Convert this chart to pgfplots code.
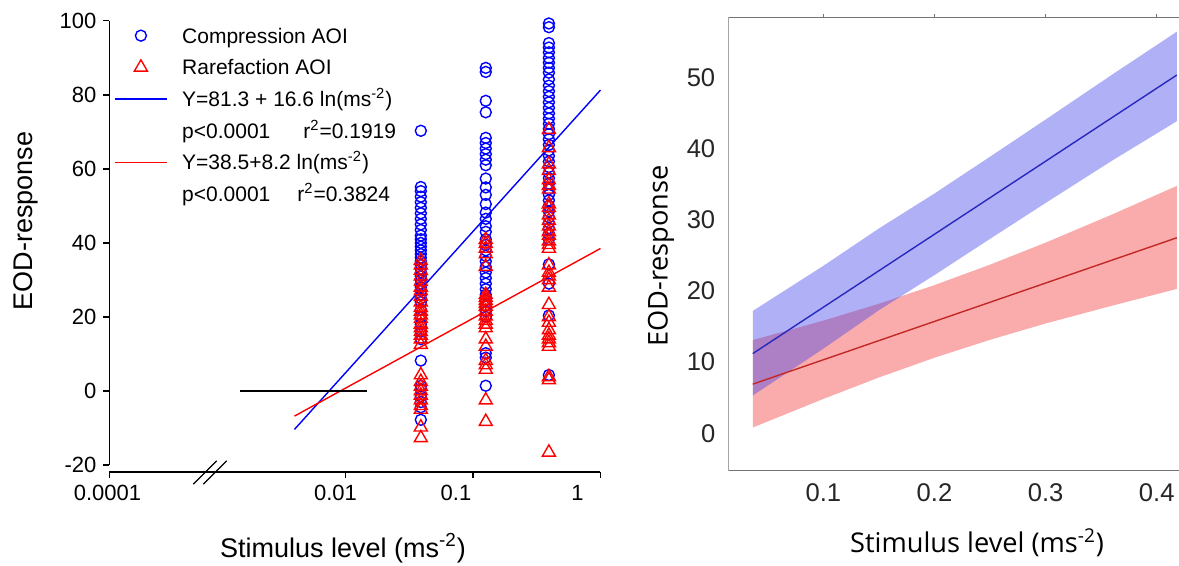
\documentclass[border=0pt]{standalone}
\usepackage{fontspec}
\setmainfont{Liberation Sans}
\newfontfamily\osans{Open Sans}
\usepackage{pgfplots}
\pgfplotsset{compat=1.18}

\begin{document}
\begin{tikzpicture}
\useasboundingbox (0,0) rectangle (589.5pt,283pt);
% ---------------- left panel ----------------
\begin{axis}[
  at={(54.75pt,47pt)}, anchor=south west,
  scale only axis, width=245.5pt, height=225.55pt,
  xmode=log, xmin=1.41e-4, xmax=1, ymin=-21.9, ymax=100,
  clip=false,
  axis x line*=bottom, axis y line*=left,
  y axis line style={draw=none},
  x axis line style={-, line width=0.6pt},
  xtick={1.41e-4,0.01,0.1,1},
  xticklabels={{\makebox[0pt]{0.0001\hspace*{2pt}}},{\makebox[0pt]{0.01\hspace*{10pt}}},{\makebox[0pt]{0.1\hspace*{17pt}}},{\makebox[0pt]{1\hspace*{23pt}}}},
  minor xtick={},
  ytick={-20,0,20,40,60,80,100},
  yticklabels={-20,0,20,40,60,80,100},
  tick align=outside, major tick length=3pt,
  tick style={black, line width=0.6pt},
  tick label style={font=\fontsize{11}{13}\selectfont},
  xlabel={Stimulus level (ms\textsuperscript{-2})},
  ylabel={EOD-response},
  xlabel style={font=\fontsize{13.5}{16}\selectfont, at={(rel axis cs:0.4756,-0.1685)}, anchor=center},
  ylabel style={font=\fontsize{13.5}{16}\selectfont, at={(rel axis cs:-0.170,0.556)}, anchor=center},
  legend image code/.code={\draw[mark repeat=2,mark phase=2,#1] plot coordinates {(0pt,0pt)(13pt,0pt)(26pt,0pt)};},
  legend cell align=left,
  legend style={draw=none, fill=none, at={(0.0088,1.0033)}, anchor=north west,
    font=\fontsize{10.5}{12}\selectfont, inner sep=0pt, row sep=0pt,
    nodes={inner sep=0pt, text height=11.68pt, text depth=4.16pt},
    /tikz/every odd column/.append style={column sep=7.3pt}},
]
\addplot[only marks, mark=o, mark size=2.75pt, blue, mark options={line width=0.7pt}] coordinates {
(0.039,70.3)(0.039,55.1)(0.039,54)(0.039,52.5)(0.039,51)(0.039,49.5)(0.039,48)(0.039,46.5)(0.039,45)(0.039,43.5)(0.039,42)(0.039,41)(0.039,40)(0.039,39)(0.039,38)(0.039,37)(0.039,36)(0.039,35)(0.039,34)(0.039,33)(0.039,32)(0.039,31)(0.039,30)(0.039,29)(0.039,28)(0.039,27)(0.039,26)(0.039,25)(0.039,24)(0.039,22)(0.039,20)(0.039,18)(0.039,16)(0.039,14)(0.039,8.2)(0.039,1.4)(0.039,0.5)(0.039,-1.5)(0.039,-3)(0.039,-4.4)(0.039,-7.8)
(0.126,87.3)(0.126,86.2)(0.126,78.4)(0.126,75.3)(0.126,68.4)(0.126,67)(0.126,65.5)(0.126,64)(0.126,62.5)(0.126,61)(0.126,57.4)(0.126,55)(0.126,53)(0.126,50.5)(0.126,48.2)(0.126,46.5)(0.126,44.5)(0.126,43)(0.126,41)(0.126,39.5)(0.126,38)(0.126,36.5)(0.126,35)(0.126,33.5)(0.126,32)(0.126,30.5)(0.126,29)(0.126,27.5)(0.126,26)(0.126,24.5)(0.126,23)(0.126,21.5)(0.126,20)(0.126,10.2)(0.126,9)(0.126,1.4)
(0.394,99.3)(0.394,98.3)(0.394,94)(0.394,92.8)(0.394,91.5)(0.394,90)(0.394,88.7)(0.394,87.3)(0.394,86)(0.394,84.2)(0.394,82.5)(0.394,81)(0.394,79.5)(0.394,78)(0.394,76.5)(0.394,75)(0.394,73.6)(0.394,72.2)(0.394,70.8)(0.394,69.4)(0.394,68)(0.394,66.5)(0.394,65)(0.394,63.5)(0.394,62)(0.394,60.5)(0.394,59)(0.394,57.5)(0.394,56)(0.394,54.5)(0.394,53)(0.394,51.5)(0.394,50)(0.394,48.5)(0.394,47)(0.394,45.5)(0.394,44)(0.394,42.5)(0.394,41)(0.394,34.2)(0.394,29)(0.394,20.4)(0.394,4.3)
};
\addlegendentry{Compression AOI}
\addplot[only marks, mark=triangle, mark size=3.75pt, red, mark options={line width=0.7pt}] coordinates {
(0.039,35.2)(0.039,34)(0.039,32.5)(0.039,31)(0.039,29.5)(0.039,28)(0.039,27)(0.039,25.5)(0.039,24)(0.039,22.5)(0.039,21.5)(0.039,20.5)(0.039,19.5)(0.039,18)(0.039,17)(0.039,16)(0.039,15)(0.039,14)(0.039,12.5)(0.039,4.3)(0.039,2.5)(0.039,1.2)(0.039,0)(0.039,-1.2)(0.039,-2.5)(0.039,-4)(0.039,-5)(0.039,-9.8)(0.039,-12.7)
(0.126,40.9)(0.126,39.8)(0.126,38.5)(0.126,37)(0.126,33.6)(0.126,26)(0.126,25.2)(0.126,24.4)(0.126,23.6)(0.126,22.8)(0.126,21.5)(0.126,20.2)(0.126,19)(0.126,18)(0.126,17)(0.126,14)(0.126,12)(0.126,8.2)(0.126,7)(0.126,5.8)(0.126,-2.5)(0.126,-8.3)
(0.394,70.6)(0.394,65.7)(0.394,61.3)(0.394,59.5)(0.394,57)(0.394,55.5)(0.394,54.5)(0.394,50.5)(0.394,49.5)(0.394,47.5)(0.394,46)(0.394,44.5)(0.394,43)(0.394,42)(0.394,40.5)(0.394,39.5)(0.394,38.5)(0.394,34)(0.394,32)(0.394,31)(0.394,30)(0.394,28)(0.394,23.3)(0.394,20)(0.394,18.5)(0.394,16.5)(0.394,15)(0.394,14)(0.394,13)(0.394,12)(0.394,3.8)(0.394,3)(0.394,-16.6)
};
\addlegendentry{Rarefaction AOI}
\addplot[blue, line width=0.7pt] coordinates {(0.00398,-10.4)(1,81.3)};
\addlegendentry{Y=81.3 + 16.6 ln(ms\textsuperscript{-2})}
\addlegendimage{empty legend}
\addlegendentry{p<0.0001\hspace{16.5pt}r\textsuperscript{2}=0.1919}
\addplot[red, line width=0.7pt] coordinates {(0.00398,-6.8)(1,38.5)};
\addlegendentry{Y=38.5+8.2 ln(ms\textsuperscript{-2})}
\addlegendimage{empty legend}
\addlegendentry{p<0.0001\hspace{13.5pt}r\textsuperscript{2}=0.3824}
\addplot[black, line width=0.6pt, forget plot] coordinates {(0.00149,0)(0.0148,0)};
\draw[line width=0.6pt] (axis cs:1.41e-4,-20) -- (axis cs:1.41e-4,100);
\draw[line width=0.6pt] (axis cs:6.40e-4,-25.2) -- (axis cs:9.77e-4,-18.9);
\draw[line width=0.6pt] (axis cs:7.67e-4,-25.2) -- (axis cs:1.17e-3,-18.9);
\end{axis}
% ---------------- right panel ----------------
\begin{axis}[
  at={(364.15pt,47.5pt)}, anchor=south west,
  scale only axis, width=225.35pt, height=226.5pt,
  xmin=0.0145, xmax=0.42, ymin=-5.32, ymax=58.43,
  axis line style={draw=none},
  xtick={0.1,0.2,0.3,0.4}, xticklabels={0.1,0.2,0.3,0.4},
  ytick={0,10,20,30,40,50}, yticklabels={0,10,20,30,40,50},
  xtick pos=right, xticklabel pos=left,
  tick align=outside, major tick length=2pt,
  ytick style={draw=none},
  xtick style={black!55, line width=0.5pt},
  tick label style={font=\fontsize{12.8}{14}\selectfont, text=black!85},
  yticklabel style={xshift=-1pt},
  xticklabel style={yshift=-1pt},
  xlabel={Stimulus level (ms\textsuperscript{-2})},
  ylabel={EOD-response},
  xlabel style={font=\osans\fontsize{13.6}{15}\selectfont, at={(rel axis cs:0.552,-0.159)}, anchor=center},
  ylabel style={font=\osans\fontsize{13.6}{15}\selectfont, at={(rel axis cs:-0.149,0.4746)}, anchor=center},
]
\addplot[fill={rgb,255:red,242;green,48;blue,48}, fill opacity=0.4, draw=none] coordinates {(0.0365,13.1)(0.1,15.84)(0.15,18.22)(0.2,20.84)(0.25,23.72)(0.3,26.82)(0.36,30.79)(0.418,34.8)(0.418,20.3)(0.36,17.95)(0.3,15.44)(0.25,13.14)(0.2,10.62)(0.15,7.84)(0.1,4.82)(0.0365,0.8)} --cycle;
\addplot[fill={rgb,255:red,58;green,58;blue,232}, fill opacity=0.4, draw=none] coordinates {(0.0365,17.2)(0.1,23.55)(0.15,28.81)(0.2,33.73)(0.25,38.91)(0.3,44.14)(0.36,50.48)(0.418,56.5)(0.418,43.9)(0.36,38.38)(0.3,32.40)(0.25,27.35)(0.2,22.25)(0.15,17.31)(0.1,11.89)(0.0365,5.3)} --cycle;
\addplot[color={rgb,255:red,40;green,40;blue,190}, line width=0.7pt] coordinates {(0.0365,11.2)(0.418,50.4)};
\addplot[color={rgb,255:red,195;green,40;blue,40}, line width=0.7pt] coordinates {(0.0365,6.9)(0.418,27.5)};
\draw[black!55, line width=0.5pt] (rel axis cs:1.02,1) -- (rel axis cs:0,1) -- (rel axis cs:0,0) -- (rel axis cs:1.02,0);
\end{axis}
\end{tikzpicture}
\end{document}
